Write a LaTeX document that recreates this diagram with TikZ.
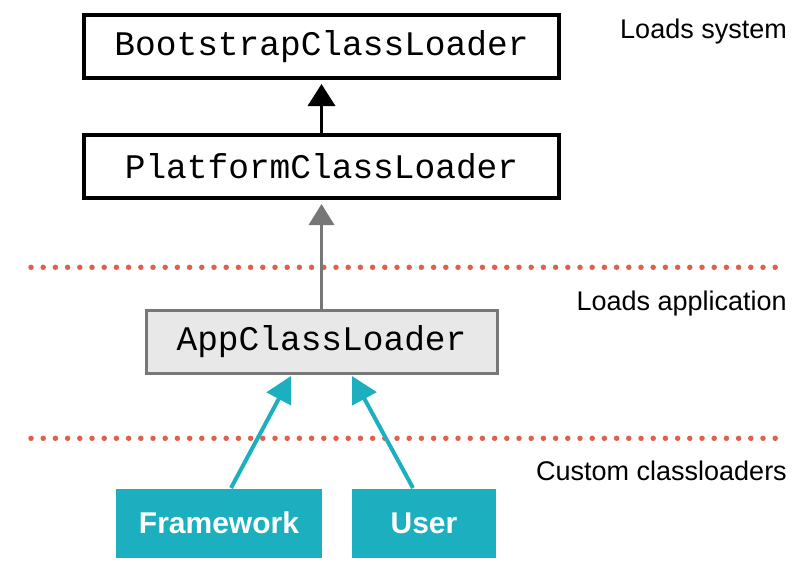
\documentclass[tikz,border=0pt]{standalone}
\usepackage{fontspec}
\setmainfont{Liberation Sans}
\newfontfamily\monofont{Liberation Mono}
\usetikzlibrary{arrows.meta}
\definecolor{teal1}{HTML}{1BAFBF}
\definecolor{dotred}{HTML}{E0604E}
\definecolor{appfill}{HTML}{E8E8E8}
\definecolor{appline}{HTML}{777777}
\tikzset{
  cls/.style={draw=black, line width=4pt, fill=white, inner sep=0pt,
    font=\monofont\fontsize{34.5}{36}\selectfont, minimum height=63pt},
  appcls/.style={cls, draw=appline, line width=3pt, fill=appfill},
  custom/.style={fill=teal1, inner sep=0pt, minimum height=69pt,
    text=white, font=\bfseries\fontsize{30}{32}\selectfont},
  label/.style={anchor=base east, inner sep=0pt, font=\fontsize{27}{29}\selectfont},
  sep/.style={dotred, line width=5.5pt, line cap=round, dash pattern=on 0pt off 12.2pt},
  blackarrow/.style={line width=3.5pt, -{Triangle[length=22pt,width=27pt]}, shorten >=4pt},
  grayarrow/.style={draw=appline, line width=3.5pt, -{Triangle[length=21pt,width=25pt]}, shorten >=4pt},
  tealarrow/.style={draw=teal1, line width=4pt, -{Triangle[length=26pt,width=27pt]}}
}
\begin{document}
\begin{tikzpicture}[x=1pt,y=-1pt]
\useasboundingbox (0,0) rectangle (804,579);
% separators
\draw[sep] (31,267.3) -- (787,267.3);
\draw[sep] (31,438.3) -- (787,438.3);
% nodes
\node[cls, minimum width=475pt] (boot) at (321.5,46.5) {BootstrapClassLoader};
\node[cls, minimum width=475pt] (plat) at (321.5,166.5) {PlatformClassLoader};
\node[appcls, minimum width=351pt] (app) at (321.5,341.5) {AppClassLoader};
\node[custom, minimum width=206pt] (fw) at (219,523) {Framework};
\node[custom, minimum width=144pt] (user) at (424,523) {User};
% labels
\node[label] (l1) at (787,38) {Loads system};
\node[label] (l2) at (787,310) {Loads application};
\node[label] (l3) at (787,480) {Custom classloaders};
% connectors
\draw[blackarrow] (plat.north) -- (boot.south);
\draw[grayarrow] (app.north) -- (plat.south);
\coordinate (fwtop) at (231,488);
\coordinate (usertop) at (413,488);
\coordinate (tipL) at (291,376);
\coordinate (tipR) at (352,376);
\draw[tealarrow] (fwtop) -- (tipL);
\draw[tealarrow] (usertop) -- (tipR);
\end{tikzpicture}
\end{document}
